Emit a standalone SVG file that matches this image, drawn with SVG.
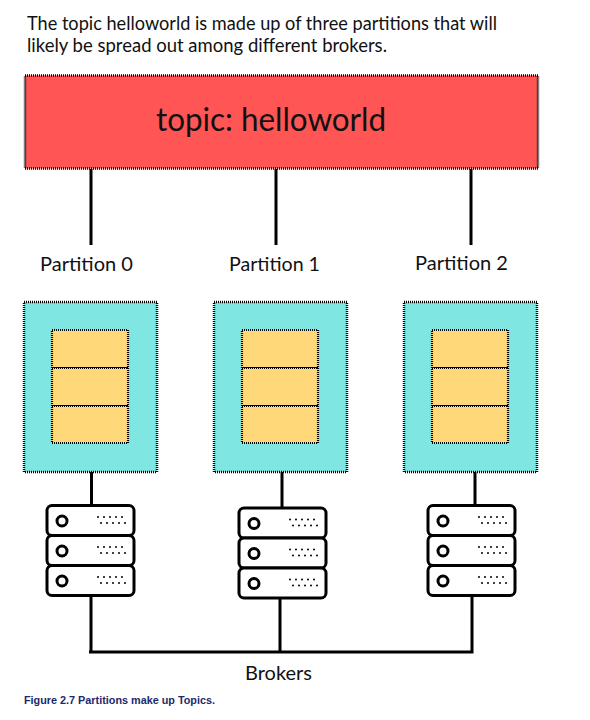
<svg xmlns="http://www.w3.org/2000/svg" xmlns:xlink="http://www.w3.org/1999/xlink" width="590" height="720" viewBox="0 0 590 720">
<style>
text{font-family:"Lato","Liberation Sans",sans-serif;fill:#111}
.intro{font-size:18.5px}
.lab{font-size:20px}
.topic{fill:#ff5555;stroke:#000;stroke-width:2.5;stroke-dasharray:1 1}
.part{fill:#7fe6e2;stroke:#000;stroke-width:2.5;stroke-dasharray:1 1}
.seg{fill:#ffd87a;stroke:#000;stroke-width:2.2;stroke-dasharray:1 1}
.wire{fill:none;stroke:#000;stroke-width:3}
.srv{fill:#fff;stroke:#000;stroke-width:3}
.led{fill:#fff;stroke:#000;stroke-width:3}
.dots{fill:none;stroke:#000;stroke-width:2;stroke-linecap:round;stroke-dasharray:0 6}
</style>
<defs>
<g id="unit">
<rect class="srv" x="0" y="0" width="87" height="30" rx="5"/>
<circle class="led" cx="15" cy="15.500" r="5"/>
<path class="dots" d="M51 11.500H78M54 17.500H81"/>
</g>
<g id="stack">
<use xlink:href="#unit" y="0"/>
<use xlink:href="#unit" y="30"/>
<use xlink:href="#unit" y="60"/>
</g>
<g id="partbox">
<rect class="part" x="0" y="0" width="133" height="170"/>
<rect class="seg" x="28" y="28" width="76" height="38"/>
<rect class="seg" x="28" y="66" width="76" height="38"/>
<rect class="seg" x="28" y="104" width="76" height="37"/>
</g>
</defs>
<text class="intro" x="27" y="30" textLength="470" lengthAdjust="spacingAndGlyphs">The topic helloworld is made up of three partitions that will</text>
<text class="intro" x="27" y="52" textLength="360" lengthAdjust="spacingAndGlyphs">likely be spread out among different brokers.</text>
<g id="connectors">
<path class="wire" d="M91 169V245M276 169V245M471 169V245"/>
<path class="wire" d="M91.500 472V505M282 472V508M475 472V505"/>
<path class="wire" d="M91 596V652M280 598V652M472 596V652M89 652H473.500"/>
</g>
<g id="topic">
<rect class="topic" x="25" y="75.500" width="513" height="93"/>
<text x="156" y="131" font-size="33" style="font-size:33px" textLength="230" lengthAdjust="spacingAndGlyphs">topic: helloworld</text>
</g>
<g id="partition-0"><use xlink:href="#partbox" x="24" y="302"/><text class="lab" x="40" y="271" textLength="93" lengthAdjust="spacingAndGlyphs">Partition 0</text></g>
<g id="partition-1"><use xlink:href="#partbox" x="214" y="302"/><text class="lab" x="229" y="271" textLength="91" lengthAdjust="spacingAndGlyphs">Partition 1</text></g>
<g id="partition-2"><use xlink:href="#partbox" x="404" y="302"/><text class="lab" x="415" y="270" textLength="93" lengthAdjust="spacingAndGlyphs">Partition 2</text></g>
<g id="broker-0"><use xlink:href="#stack" x="47" y="505.500"/></g>
<g id="broker-1"><use xlink:href="#stack" x="239" y="508"/></g>
<g id="broker-2"><use xlink:href="#stack" x="428" y="505.500"/></g>
<g id="brokers-label"><text class="lab" x="245" y="680" textLength="67" lengthAdjust="spacingAndGlyphs">Brokers</text></g>
<text x="24" y="704" style="font-family:'Liberation Sans',sans-serif;font-size:11px;font-weight:bold;fill:#1a2a6c" textLength="191" lengthAdjust="spacingAndGlyphs">Figure 2.7 Partitions make up Topics.</text>
</svg>
